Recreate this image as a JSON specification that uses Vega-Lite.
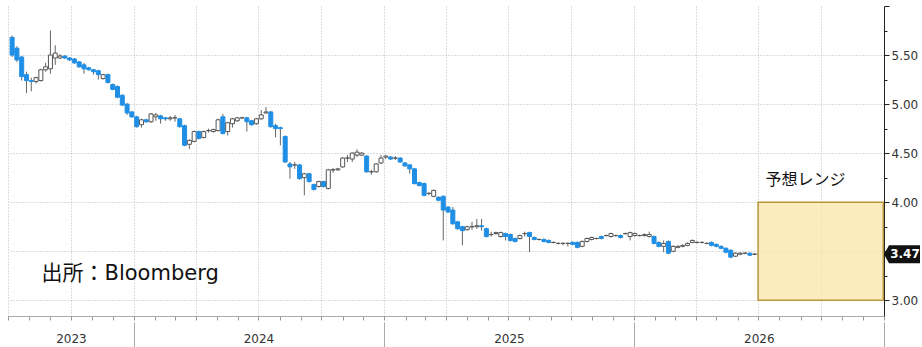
{
  "$schema": "https://vega.github.io/schema/vega-lite/v6.json",
  "width": 876,
  "height": 310,
  "autosize": {"type": "none"},
  "padding": {"left": 8, "top": 6, "right": 38, "bottom": 31},
  "background": "white",
  "config": {
    "view": {"stroke": null},
    "axis": {"labelFont": "DejaVu Sans", "labelFontSize": 12, "labelColor": "#333", "title": null}
  },
  "datasets": {
    "candles": [
      {"d":"2023-07-07","o":5.68,"c":5.50,"h":5.70,"l":5.48},
      {"d":"2023-07-14","o":5.57,"c":5.45,"h":5.59,"l":5.43},
      {"d":"2023-07-21","o":5.48,"c":5.28,"h":5.49,"l":5.24},
      {"d":"2023-07-28","o":5.30,"c":5.24,"h":5.33,"l":5.11},
      {"d":"2023-08-04","o":5.24,"c":5.23,"h":5.27,"l":5.13},
      {"d":"2023-08-11","o":5.23,"c":5.27,"h":5.28,"l":5.21},
      {"d":"2023-08-18","o":5.24,"c":5.35,"h":5.36,"l":5.23},
      {"d":"2023-08-25","o":5.35,"c":5.38,"h":5.42,"l":5.33},
      {"d":"2023-09-01","o":5.36,"c":5.50,"h":5.75,"l":5.31},
      {"d":"2023-09-08","o":5.47,"c":5.52,"h":5.60,"l":5.40},
      {"d":"2023-09-15","o":5.47,"c":5.49,"h":5.51,"l":5.46},
      {"d":"2023-09-22","o":5.49,"c":5.47,"h":5.50,"l":5.46},
      {"d":"2023-09-29","o":5.47,"c":5.45,"h":5.48,"l":5.44},
      {"d":"2023-10-06","o":5.46,"c":5.42,"h":5.47,"l":5.41},
      {"d":"2023-10-13","o":5.43,"c":5.38,"h":5.44,"l":5.37},
      {"d":"2023-10-20","o":5.40,"c":5.36,"h":5.42,"l":5.31},
      {"d":"2023-10-27","o":5.37,"c":5.35,"h":5.38,"l":5.34},
      {"d":"2023-11-03","o":5.35,"c":5.33,"h":5.36,"l":5.30},
      {"d":"2023-11-10","o":5.34,"c":5.30,"h":5.35,"l":5.25},
      {"d":"2023-11-17","o":5.26,"c":5.30,"h":5.31,"l":5.25},
      {"d":"2023-11-24","o":5.30,"c":5.22,"h":5.31,"l":5.21},
      {"d":"2023-12-01","o":5.20,"c":5.15,"h":5.21,"l":5.14},
      {"d":"2023-12-08","o":5.18,"c":5.07,"h":5.19,"l":5.06},
      {"d":"2023-12-15","o":5.09,"c":4.99,"h":5.10,"l":4.98},
      {"d":"2023-12-22","o":5.00,"c":4.91,"h":5.01,"l":4.89},
      {"d":"2023-12-29","o":4.92,"c":4.87,"h":4.93,"l":4.86},
      {"d":"2024-01-05","o":4.87,"c":4.77,"h":4.88,"l":4.76},
      {"d":"2024-01-12","o":4.79,"c":4.84,"h":4.85,"l":4.76},
      {"d":"2024-01-19","o":4.84,"c":4.82,"h":4.85,"l":4.81},
      {"d":"2024-01-26","o":4.82,"c":4.90,"h":4.91,"l":4.81},
      {"d":"2024-02-02","o":4.87,"c":4.89,"h":4.91,"l":4.83},
      {"d":"2024-02-09","o":4.88,"c":4.85,"h":4.89,"l":4.80},
      {"d":"2024-02-16","o":4.86,"c":4.85,"h":4.87,"l":4.83},
      {"d":"2024-02-23","o":4.85,"c":4.86,"h":4.88,"l":4.83},
      {"d":"2024-03-01","o":4.86,"c":4.86,"h":4.89,"l":4.82},
      {"d":"2024-03-08","o":4.85,"c":4.77,"h":4.86,"l":4.76},
      {"d":"2024-03-15","o":4.78,"c":4.58,"h":4.79,"l":4.57},
      {"d":"2024-03-22","o":4.59,"c":4.63,"h":4.64,"l":4.54},
      {"d":"2024-03-29","o":4.62,"c":4.72,"h":4.73,"l":4.61},
      {"d":"2024-04-05","o":4.72,"c":4.65,"h":4.73,"l":4.64},
      {"d":"2024-04-12","o":4.66,"c":4.72,"h":4.73,"l":4.65},
      {"d":"2024-04-19","o":4.73,"c":4.73,"h":4.75,"l":4.71},
      {"d":"2024-04-26","o":4.72,"c":4.74,"h":4.75,"l":4.71},
      {"d":"2024-05-03","o":4.73,"c":4.84,"h":4.85,"l":4.72},
      {"d":"2024-05-10","o":4.87,"c":4.70,"h":4.90,"l":4.69},
      {"d":"2024-05-17","o":4.72,"c":4.81,"h":4.82,"l":4.68},
      {"d":"2024-05-24","o":4.80,"c":4.85,"h":4.86,"l":4.76},
      {"d":"2024-05-31","o":4.83,"c":4.86,"h":4.87,"l":4.82},
      {"d":"2024-06-07","o":4.86,"c":4.86,"h":4.87,"l":4.85},
      {"d":"2024-06-14","o":4.86,"c":4.82,"h":4.87,"l":4.72},
      {"d":"2024-06-21","o":4.83,"c":4.79,"h":4.84,"l":4.78},
      {"d":"2024-06-28","o":4.80,"c":4.85,"h":4.86,"l":4.79},
      {"d":"2024-07-05","o":4.85,"c":4.89,"h":4.94,"l":4.84},
      {"d":"2024-07-12","o":4.91,"c":4.92,"h":4.97,"l":4.90},
      {"d":"2024-07-19","o":4.92,"c":4.77,"h":4.93,"l":4.76},
      {"d":"2024-07-26","o":4.78,"c":4.75,"h":4.80,"l":4.66},
      {"d":"2024-08-02","o":4.76,"c":4.75,"h":4.77,"l":4.58},
      {"d":"2024-08-09","o":4.67,"c":4.41,"h":4.68,"l":4.40},
      {"d":"2024-08-16","o":4.39,"c":4.36,"h":4.41,"l":4.24},
      {"d":"2024-08-23","o":4.38,"c":4.38,"h":4.41,"l":4.34},
      {"d":"2024-08-30","o":4.38,"c":4.24,"h":4.39,"l":4.23},
      {"d":"2024-09-06","o":4.25,"c":4.29,"h":4.30,"l":4.07},
      {"d":"2024-09-13","o":4.29,"c":4.21,"h":4.30,"l":4.20},
      {"d":"2024-09-20","o":4.18,"c":4.13,"h":4.19,"l":4.12},
      {"d":"2024-09-27","o":4.16,"c":4.21,"h":4.22,"l":4.15},
      {"d":"2024-10-04","o":4.21,"c":4.16,"h":4.22,"l":4.15},
      {"d":"2024-10-11","o":4.14,"c":4.33,"h":4.34,"l":4.13},
      {"d":"2024-10-18","o":4.33,"c":4.33,"h":4.35,"l":4.30},
      {"d":"2024-10-25","o":4.33,"c":4.34,"h":4.35,"l":4.32},
      {"d":"2024-11-01","o":4.36,"c":4.45,"h":4.46,"l":4.35},
      {"d":"2024-11-08","o":4.45,"c":4.45,"h":4.48,"l":4.41},
      {"d":"2024-11-15","o":4.44,"c":4.50,"h":4.51,"l":4.41},
      {"d":"2024-11-22","o":4.48,"c":4.51,"h":4.54,"l":4.46},
      {"d":"2024-11-29","o":4.48,"c":4.50,"h":4.51,"l":4.47},
      {"d":"2024-12-06","o":4.47,"c":4.31,"h":4.48,"l":4.30},
      {"d":"2024-12-13","o":4.31,"c":4.31,"h":4.33,"l":4.28},
      {"d":"2024-12-20","o":4.31,"c":4.39,"h":4.40,"l":4.30},
      {"d":"2024-12-27","o":4.40,"c":4.45,"h":4.48,"l":4.39},
      {"d":"2025-01-03","o":4.46,"c":4.47,"h":4.48,"l":4.44},
      {"d":"2025-01-10","o":4.46,"c":4.44,"h":4.47,"l":4.43},
      {"d":"2025-01-17","o":4.45,"c":4.45,"h":4.47,"l":4.43},
      {"d":"2025-01-24","o":4.45,"c":4.41,"h":4.46,"l":4.40},
      {"d":"2025-01-31","o":4.40,"c":4.37,"h":4.41,"l":4.36},
      {"d":"2025-02-07","o":4.38,"c":4.34,"h":4.39,"l":4.29},
      {"d":"2025-02-14","o":4.34,"c":4.19,"h":4.35,"l":4.18},
      {"d":"2025-02-21","o":4.20,"c":4.17,"h":4.21,"l":4.16},
      {"d":"2025-02-28","o":4.19,"c":4.07,"h":4.20,"l":4.06},
      {"d":"2025-03-07","o":4.09,"c":4.09,"h":4.10,"l":4.07},
      {"d":"2025-03-14","o":4.06,"c":4.12,"h":4.13,"l":4.05},
      {"d":"2025-03-21","o":4.05,"c":4.02,"h":4.06,"l":4.01},
      {"d":"2025-03-28","o":4.06,"c":3.92,"h":4.07,"l":3.61},
      {"d":"2025-04-04","o":3.95,"c":3.90,"h":3.96,"l":3.89},
      {"d":"2025-04-11","o":3.92,"c":3.78,"h":3.95,"l":3.77},
      {"d":"2025-04-18","o":3.80,"c":3.73,"h":3.81,"l":3.72},
      {"d":"2025-04-25","o":3.75,"c":3.71,"h":3.76,"l":3.56},
      {"d":"2025-05-02","o":3.72,"c":3.75,"h":3.76,"l":3.71},
      {"d":"2025-05-09","o":3.75,"c":3.75,"h":3.80,"l":3.72},
      {"d":"2025-05-16","o":3.75,"c":3.76,"h":3.83,"l":3.73},
      {"d":"2025-05-23","o":3.76,"c":3.75,"h":3.83,"l":3.71},
      {"d":"2025-05-30","o":3.73,"c":3.65,"h":3.74,"l":3.64},
      {"d":"2025-06-06","o":3.67,"c":3.67,"h":3.70,"l":3.65},
      {"d":"2025-06-13","o":3.68,"c":3.69,"h":3.70,"l":3.67},
      {"d":"2025-06-20","o":3.65,"c":3.69,"h":3.70,"l":3.64},
      {"d":"2025-06-27","o":3.68,"c":3.65,"h":3.69,"l":3.61},
      {"d":"2025-07-04","o":3.67,"c":3.61,"h":3.68,"l":3.60},
      {"d":"2025-07-11","o":3.63,"c":3.60,"h":3.64,"l":3.59},
      {"d":"2025-07-18","o":3.63,"c":3.66,"h":3.67,"l":3.62},
      {"d":"2025-07-25","o":3.68,"c":3.68,"h":3.70,"l":3.65},
      {"d":"2025-08-01","o":3.69,"c":3.65,"h":3.70,"l":3.49},
      {"d":"2025-08-08","o":3.64,"c":3.62,"h":3.65,"l":3.61},
      {"d":"2025-08-15","o":3.62,"c":3.62,"h":3.63,"l":3.61},
      {"d":"2025-08-22","o":3.62,"c":3.60,"h":3.63,"l":3.59},
      {"d":"2025-08-29","o":3.61,"c":3.59,"h":3.62,"l":3.58},
      {"d":"2025-09-05","o":3.59,"c":3.59,"h":3.60,"l":3.58},
      {"d":"2025-09-12","o":3.58,"c":3.58,"h":3.59,"l":3.57},
      {"d":"2025-09-19","o":3.58,"c":3.58,"h":3.59,"l":3.56},
      {"d":"2025-09-26","o":3.58,"c":3.58,"h":3.59,"l":3.55},
      {"d":"2025-10-03","o":3.59,"c":3.57,"h":3.60,"l":3.56},
      {"d":"2025-10-10","o":3.59,"c":3.54,"h":3.60,"l":3.53},
      {"d":"2025-10-17","o":3.55,"c":3.60,"h":3.61,"l":3.54},
      {"d":"2025-10-24","o":3.60,"c":3.63,"h":3.64,"l":3.59},
      {"d":"2025-10-31","o":3.62,"c":3.64,"h":3.65,"l":3.61},
      {"d":"2025-11-07","o":3.63,"c":3.63,"h":3.64,"l":3.62},
      {"d":"2025-11-14","o":3.65,"c":3.63,"h":3.66,"l":3.62},
      {"d":"2025-11-21","o":3.66,"c":3.66,"h":3.67,"l":3.65},
      {"d":"2025-11-28","o":3.65,"c":3.68,"h":3.69,"l":3.64},
      {"d":"2025-12-05","o":3.66,"c":3.66,"h":3.67,"l":3.65},
      {"d":"2025-12-12","o":3.66,"c":3.64,"h":3.67,"l":3.63},
      {"d":"2025-12-19","o":3.68,"c":3.68,"h":3.69,"l":3.67},
      {"d":"2025-12-26","o":3.65,"c":3.69,"h":3.70,"l":3.61},
      {"d":"2026-01-02","o":3.66,"c":3.68,"h":3.69,"l":3.65},
      {"d":"2026-01-09","o":3.66,"c":3.66,"h":3.67,"l":3.65},
      {"d":"2026-01-16","o":3.66,"c":3.67,"h":3.68,"l":3.65},
      {"d":"2026-01-23","o":3.65,"c":3.67,"h":3.70,"l":3.64},
      {"d":"2026-01-30","o":3.65,"c":3.58,"h":3.66,"l":3.57},
      {"d":"2026-02-06","o":3.59,"c":3.55,"h":3.60,"l":3.54},
      {"d":"2026-02-13","o":3.55,"c":3.58,"h":3.61,"l":3.49},
      {"d":"2026-02-20","o":3.60,"c":3.48,"h":3.61,"l":3.47},
      {"d":"2026-02-27","o":3.50,"c":3.55,"h":3.56,"l":3.49},
      {"d":"2026-03-06","o":3.54,"c":3.55,"h":3.56,"l":3.53},
      {"d":"2026-03-13","o":3.55,"c":3.56,"h":3.57,"l":3.54},
      {"d":"2026-03-20","o":3.56,"c":3.58,"h":3.59,"l":3.55},
      {"d":"2026-03-27","o":3.59,"c":3.61,"h":3.62,"l":3.58},
      {"d":"2026-04-03","o":3.59,"c":3.59,"h":3.60,"l":3.58},
      {"d":"2026-04-10","o":3.59,"c":3.59,"h":3.60,"l":3.58},
      {"d":"2026-04-17","o":3.58,"c":3.58,"h":3.59,"l":3.57},
      {"d":"2026-04-24","o":3.59,"c":3.56,"h":3.60,"l":3.55},
      {"d":"2026-05-01","o":3.57,"c":3.55,"h":3.58,"l":3.54},
      {"d":"2026-05-08","o":3.55,"c":3.53,"h":3.56,"l":3.52},
      {"d":"2026-05-15","o":3.53,"c":3.49,"h":3.54,"l":3.48},
      {"d":"2026-05-22","o":3.51,"c":3.44,"h":3.52,"l":3.43},
      {"d":"2026-05-29","o":3.45,"c":3.48,"h":3.49,"l":3.44},
      {"d":"2026-06-05","o":3.47,"c":3.48,"h":3.49,"l":3.46},
      {"d":"2026-06-12","o":3.48,"c":3.48,"h":3.49,"l":3.47},
      {"d":"2026-06-19","o":3.48,"c":3.46,"h":3.49,"l":3.45},
      {"d":"2026-06-26","o":3.47,"c":3.47,"h":3.48,"l":3.46}
    ],
    "box": [{"start": "2026-07-01", "end": "2026-12-31", "lo": 3.0, "hi": 4.0}],
    "notes": [
      {"d": "2026-07-12", "v": 4.224, "label": "予想レンジ", "kind": "range"},
      {"d": "2023-08-19", "v": 3.265, "label": "出所：Bloomberg", "kind": "source"}
    ],
    "last": [{"d": "2027-01-01", "v": 3.47, "label": "3.47"}]
  },
  "layer": [
    {
      "data": {"name": "candles"},
      "mark": {"type": "rule", "color": "#666", "strokeWidth": 1},
      "encoding": {
        "x": {
          "field": "d", "type": "temporal",
          "scale": {"type": "utc", "domain": [{"year": 2023, "month": 7, "date": 1, "utc": true}, {"year": 2027, "month": 1, "date": 1, "utc": true}], "nice": false, "padding": 0},
          "axis": {
            "orient": "bottom",
            "tickCount": {"interval": "month", "step": 1},
            "labels": false,
            "tickSize": 4,
            "tickColor": "#999",
            "domainColor": "#aaa",
            "grid": true,
            "gridColor": "#bbb",
            "gridDash": [1, 2],
            "gridOpacity": {"condition": {"test": "utcmonth(datum.value) % 3 === 0", "value": 1}, "value": 0}
          }
        },
        "y": {
          "field": "l", "type": "quantitative",
          "scale": {"domain": [2.84, 6.0], "nice": false, "zero": false},
          "axis": {
            "orient": "right",
            "values": [3, 3.25, 3.5, 3.75, 4, 4.25, 4.5, 4.75, 5, 5.25, 5.5, 5.75, 6],
            "labelExpr": "indexof([3, 4, 4.5, 5, 5.5], datum.value) >= 0 ? format(datum.value, '.2f') : ''",
            "domainColor": "#222",
            "tickColor": "#222",
            "tickSize": {"condition": {"test": "datum.value % 0.5 === 0", "value": 5}, "value": 3},
            "labelPadding": 2,
            "grid": true,
            "gridColor": "#bbb",
            "gridDash": [1, 2],
            "gridOpacity": {"condition": {"test": "datum.value % 0.5 === 0 && datum.value < 5.9", "value": 1}, "value": 0}
          }
        },
        "y2": {"field": "h"}
      }
    },
    {
      "data": {"name": "candles"},
      "mark": {"type": "bar", "width": 4, "strokeWidth": 1},
      "encoding": {
        "x": {
          "field": "d", "type": "temporal",
          "scale": {"type": "utc", "domain": [{"year": 2023, "month": 7, "date": 1, "utc": true}, {"year": 2027, "month": 1, "date": 1, "utc": true}], "nice": false, "padding": 0},
          "axis": {
            "orient": "bottom",
            "tickCount": {"interval": "year", "step": 1},
            "labels": false,
            "domain": false,
            "grid": false,
            "offset": 6,
            "tickSize": 25,
            "tickColor": "#aaa"
          }
        },
        "y": {"field": "o", "type": "quantitative", "scale": {"domain": [2.84, 6.0], "nice": false, "zero": false}, "axis": null},
        "y2": {"field": "c"},
        "fill": {"condition": {"test": "datum.o > datum.c", "value": "#1f8fe6"}, "value": "white"},
        "stroke": {"condition": {"test": "datum.o > datum.c", "value": "#1f8fe6"}, "value": "#555"}
      }
    },
    {
      "data": {"name": "box"},
      "mark": {"type": "rect", "fill": "#FBE4A6", "fillOpacity": 0.75, "stroke": "#B8953C", "strokeWidth": 1.5},
      "encoding": {
        "x": {
          "field": "start", "type": "temporal",
          "scale": {"type": "utc", "domain": [{"year": 2023, "month": 7, "date": 1, "utc": true}, {"year": 2027, "month": 1, "date": 1, "utc": true}], "nice": false, "padding": 0},
          "axis": {
            "orient": "bottom",
            "values": [
              {"year": 2023, "month": 10, "date": 1, "utc": true},
              {"year": 2024, "month": 7, "date": 1, "utc": true},
              {"year": 2025, "month": 7, "date": 2, "utc": true},
              {"year": 2026, "month": 7, "date": 2, "utc": true}
            ],
            "labelExpr": "utcFormat(datum.value, '%Y')",
            "tickSize": 0,
            "domain": false,
            "grid": false,
            "labelPadding": 17,
            "labelColor": "#333"
          }
        },
        "x2": {"field": "end"},
        "y": {"field": "lo", "type": "quantitative", "scale": {"domain": [2.84, 6.0], "nice": false, "zero": false}, "axis": null},
        "y2": {"field": "hi"}
      }
    },
    {
      "data": {"name": "notes"},
      "mark": {"type": "text", "align": "left", "baseline": "middle", "font": "DejaVu Sans, Noto Sans CJK JP", "color": "#111"},
      "encoding": {
        "x": {"field": "d", "type": "temporal", "axis": null, "scale": {"type": "utc", "domain": [{"year": 2023, "month": 7, "date": 1, "utc": true}, {"year": 2027, "month": 1, "date": 1, "utc": true}], "nice": false, "padding": 0}},
        "y": {"field": "v", "type": "quantitative", "axis": null, "scale": {"domain": [2.84, 6.0], "nice": false, "zero": false}},
        "text": {"field": "label"},
        "size": {"condition": {"test": "datum.kind === 'source'", "value": 21}, "value": 16}
      }
    },
    {
      "data": {"name": "last"},
      "mark": {"type": "point", "shape": "M0,0 L0.28,-0.5 L2,-0.5 L2,0.5 L0.28,0.5 Z", "size": 1296, "filled": true, "fill": "#111", "opacity": 1, "strokeWidth": 0},
      "encoding": {
        "x": {"field": "d", "type": "temporal", "axis": null, "scale": {"type": "utc", "domain": [{"year": 2023, "month": 7, "date": 1, "utc": true}, {"year": 2027, "month": 1, "date": 1, "utc": true}], "nice": false, "padding": 0}},
        "y": {"field": "v", "type": "quantitative", "axis": null, "scale": {"domain": [2.84, 6.0], "nice": false, "zero": false}}
      }
    },
    {
      "data": {"name": "last"},
      "mark": {"type": "text", "align": "center", "baseline": "middle", "dx": 21, "font": "DejaVu Sans", "fontSize": 12, "fontWeight": "bold", "color": "white"},
      "encoding": {
        "x": {"field": "d", "type": "temporal", "axis": null, "scale": {"type": "utc", "domain": [{"year": 2023, "month": 7, "date": 1, "utc": true}, {"year": 2027, "month": 1, "date": 1, "utc": true}], "nice": false, "padding": 0}},
        "y": {"field": "v", "type": "quantitative", "axis": null, "scale": {"domain": [2.84, 6.0], "nice": false, "zero": false}},
        "text": {"field": "label"}
      }
    }
  ],
  "resolve": {"axis": {"x": "independent", "y": "independent"}}
}
